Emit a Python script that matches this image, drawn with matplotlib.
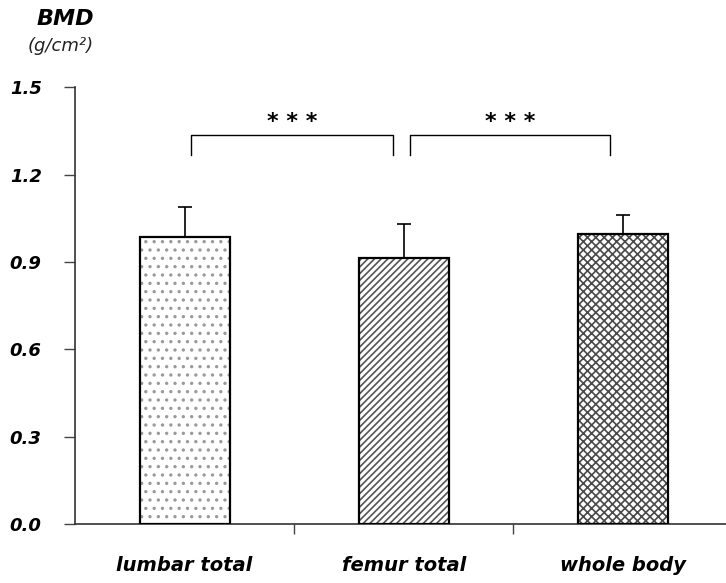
import matplotlib.pyplot as plt
import numpy as np

categories = ["lumbar total", "femur total", "whole body"]
means = [0.985, 0.913, 0.995]
sd_upper = [0.105, 0.117, 0.065]
hatches = ["..", "/////", "xxxx"]
hatch_colors = ["#9a9a9a", "#555555", "#4a4a4a"]
yticks = [0.0, 0.3, 0.6, 0.9, 1.2, 1.5]
brackets = [(0.03, 0.95), (1.03, 1.94)]
stars = "* * *"


def draw_chart():
    plt.rcParams["hatch.linewidth"] = 1.2
    fig = plt.figure(figsize=(7.26, 5.83), dpi=100)
    ax = fig.add_axes([0.1033, 0.1012, 0.8967, 0.749])

    x = np.arange(len(categories))
    width = 0.41

    # hatch fill in gray first, then black outline on top
    for i in range(len(categories)):
        ax.bar(x[i], means[i], width, color="white", edgecolor=hatch_colors[i],
               hatch=hatches[i], linewidth=0, zorder=2)
    ax.bar(x, means, width, fill=False, edgecolor="black", linewidth=1.6, zorder=3)

    ax.errorbar(x, means, yerr=[[0] * len(x), sd_upper], fmt="none",
                ecolor="black", elinewidth=1.2, capsize=5, capthick=1.2, zorder=4)

    # significance brackets
    for x0, x1 in brackets:
        ax.plot([x0, x0, x1, x1], [1.267, 1.335, 1.335, 1.267],
                color="black", linewidth=1.0, clip_on=False)
        ax.text((x0 + x1) / 2, 1.345, stars, ha="center", va="bottom",
                fontsize=16, fontweight="bold")

    ax.set_xlim(-0.5, 2.47)
    ax.set_ylim(0, 1.5)
    ax.set_yticks(yticks)
    ax.set_yticklabels([f"{v:.1f}" for v in yticks], fontsize=13,
                       fontweight="bold", fontstyle="italic")
    ax.tick_params(axis="y", direction="out", length=8, width=1, color="#444444", pad=16)

    ax.set_xticks(x)
    ax.set_xticklabels(categories, fontsize=14, fontweight="bold", fontstyle="italic")
    ax.tick_params(axis="x", which="major", length=0, pad=23)
    ax.set_xticks([0.5, 1.5], minor=True)
    ax.tick_params(axis="x", which="minor", direction="out", length=7, width=1,
                   color="#444444")

    for side in ["top", "right"]:
        ax.spines[side].set_visible(False)
    ax.spines["left"].set_linewidth(1.2)
    ax.spines["bottom"].set_linewidth(1.2)
    ax.spines["left"].set_color("#333333")
    ax.spines["bottom"].set_color("#333333")

    fig.text(0.051, 0.967, "BMD", fontsize=16, fontweight="bold",
             fontstyle="italic", va="center")
    fig.text(0.038, 0.921, "(g/cm\u00b2)", fontsize=13, fontstyle="italic",
             va="center", color="#222222")

    fig.savefig("out.png", dpi=100)


draw_chart()
